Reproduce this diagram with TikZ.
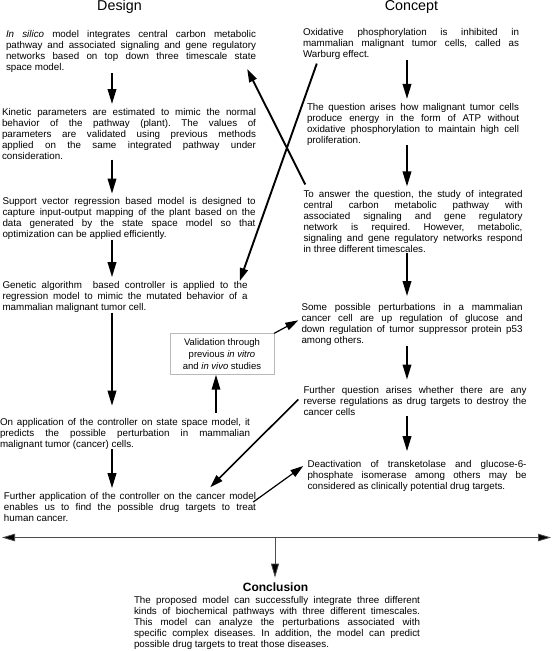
\documentclass[tikz,border=0pt]{standalone}
\usepackage{fontspec}
\setmainfont{Liberation Sans}
\usetikzlibrary{positioning, arrows.meta}
\frenchspacing

\begin{document}
\begin{tikzpicture}[x=1pt, y=-1pt,
    txt/.style={align=justify, inner sep=0pt, text width=#1,
                font=\fontsize{9.8}{11}\selectfont},
    txt/.default=252pt,
    head/.style={font=\fontsize{14.3}{16}\selectfont, inner sep=0pt},
    valbox/.style={draw=gray!55, align=center, inner sep=0pt,
                minimum width=104pt, minimum height=41pt,
                font=\fontsize{9.5}{12}\selectfont},
    arr/.style={-{Triangle[length=15pt, width=8.5pt]}, line width=1.9pt, shorten >=4pt},
    xarr/.style={-{Triangle[length=13pt, width=8pt]}, line width=1.6pt},
    thinarr/.style={-{Triangle[length=14pt, width=8pt, fill=black]}, draw=gray!60!black, line width=0.8pt},
    harr/.style={{Triangle[length=13pt, width=7.5pt, fill=black]}-{Triangle[length=13pt, width=7.5pt, fill=black]},
                 draw=gray!60!black, line width=0.8pt}
  ]
  \useasboundingbox (0,0) rectangle (553,651);

  \coordinate (lx) at (112,0);
  \coordinate (rx) at (407,0);

  \node[head, anchor=base] (design)  at (119.5,10.5) {Design};
  \node[head, anchor=base] (concept) at (411.5,10.5) {Concept};

  % design column
  \node[txt=250pt, anchor=north] (l1) at (131,30.5)
    {\textit{In silico} model integrates central carbon metabolic\linebreak
     pathway and associated signaling and gene regulatory\linebreak
     networks based on top down three timescale state\linebreak
     space model.};
  \node[txt=254pt, below=35pt of l1, xshift=-2pt] (l2)
    {Kinetic parameters are estimated to mimic the normal\linebreak
     behavior of the pathway (plant). The values of\linebreak
     parameters are validated using previous methods\linebreak
     applied on the same integrated pathway under\linebreak
     consideration.};
  \node[txt=253pt, below=38pt of l2] (l3)
    {Support vector regression based model is designed to\linebreak
     capture input-output mapping of the plant based on the\linebreak
     data generated by the state space model so that\linebreak
     optimization can be applied efficiently.};
  \node[txt=245pt, below=41pt of l3, xshift=-4pt] (l4)
    {Genetic algorithm\ \ based controller is applied to the\linebreak
     regression model to mimic the mutated behavior of a\linebreak
     mammalian malignant tumor cell.};
  \node[txt=250pt, below=105pt of l4] (l5)
    {On application of the controller on state space model, it\linebreak
     predicts the possible perturbation in mammalian\linebreak
     malignant tumor (cancer) cells.};
  \node[txt=252pt, below=43pt of l5, xshift=5pt] (l6)
    {Further application of the controller on the cancer model\linebreak
     enables us to find the possible drug targets to treat\linebreak
     human cancer.};

  \node[valbox] (val) at (222,354)
    {Validation through\\ previous \textit{in vitro}\\ and \textit{in vivo} studies};

  % concept column
  \node[txt=216pt, anchor=north] (r1) at (411,28.4)
    {Oxidative phosphorylation is inhibited in\linebreak
     mammalian malignant tumor cells, called as\linebreak
     Warburg effect.};
  \node[txt=212pt, below=43pt of r1, xshift=2pt] (r2)
    {The question arises how malignant tumor cells\linebreak
     produce energy in the form of ATP without\linebreak
     oxidative phosphorylation to maintain high cell\linebreak
     proliferation.};
  \node[txt=219pt, below=45pt of r2] (r3)
    {To answer the question, the study of integrated\linebreak
     central carbon metabolic pathway with\linebreak
     associated signaling and gene regulatory\linebreak
     network is required. However, metabolic,\linebreak
     signaling and gene regulatory networks respond\linebreak
     in three different timescales.};
  \node[txt=221pt, below=50pt of r3, xshift=-1pt] (r4)
    {Some possible perturbations in a mammalian\linebreak
     cancer cell are up regulation of glucose and\linebreak
     down regulation of tumor suppressor protein p53\linebreak
     among others.};
  \node[txt=223pt, below=41pt of r4, xshift=3pt] (r5)
    {Further question arises whether there are any\linebreak
     reverse regulations as drug targets to destroy the\linebreak
     cancer cells};
  \node[txt=219pt, below=44pt of r5, xshift=2pt] (r6)
    {Deactivation of transketolase and glucose-6-\linebreak
     phosphate isomerase among others may be\linebreak
     considered as clinically potential drug targets.};

  % downward flow
  \draw[arr] (l1.south -| lx) -- (l2.north -| lx);
  \draw[arr] (l2.south -| lx) -- (l3.north -| lx);
  \draw[arr] (l3.south -| lx) -- (l4.north -| lx);
  \draw[arr, shorten >=12pt] (l4.south -| lx) -- (l5.north -| lx);
  \draw[arr] (l5.south -| lx) -- (l6.north -| lx);
  \draw[arr] (r1.south -| rx) -- (r2.north -| rx);
  \draw[arr] (r2.south -| rx) -- (r3.north -| rx);
  \draw[arr, shorten >=7pt] (r3.south -| rx) -- (r4.north -| rx);
  \draw[arr, shorten >=7pt] (r4.south -| rx) -- (r5.north -| rx);
  \draw[arr, shorten >=9pt] (r5.south -| rx) -- (r6.north -| rx);

  % links between the columns
  \draw[xarr, line width=1.9pt] ([xshift=14pt,yshift=-3.6pt]r1.south west) -- ([xshift=-8pt]l4.north east);
  \draw[xarr, line width=1.9pt] ([xshift=2pt,yshift=6pt]r3.north west) -- ([xshift=-9pt,yshift=4pt]l1.south east);
  \draw[arr, shorten >=0pt] ([xshift=-6pt,yshift=5pt]val.south |- l5.north) -- ([xshift=-6pt]val.south);
  \draw[xarr, line width=1.2pt] (val.north east) -- ([xshift=-3pt,yshift=4pt]r4.west);
  \draw[xarr] ([xshift=-5pt,yshift=2pt]r5.west) -- ([xshift=-46pt,yshift=5pt]l6.north east);
  \draw[xarr, line width=1.2pt] ([xshift=-3pt,yshift=5pt]l6.east) -- ([xshift=-4pt,yshift=10pt]r6.west);

  % conclusion
  \coordinate (hl) at (2,537.5);
  \coordinate (hr) at (551,537.5);
  \coordinate (hm) at (275,537.5);
  \draw[harr] (hl) -- (hr);
  \node[font=\bfseries\fontsize{12}{14}\selectfont, inner sep=0pt, anchor=base] (concl) at (275.5,591.5) {Conclusion};
  \draw[thinarr] (hm) -- ([yshift=5pt]concl.north -| hm);
  \node[txt=286pt, below=4pt of concl, xshift=1.5pt, font=\fontsize{9.8}{11.2}\selectfont] (summ)
    {The proposed model can successfully integrate three different\linebreak
     kinds of biochemical pathways with three different timescales.\linebreak
     This model can analyze the perturbations associated with\linebreak
     specific complex diseases. In addition, the model can predict\linebreak
     possible drug targets to treat those diseases.};
\end{tikzpicture}
\end{document}
